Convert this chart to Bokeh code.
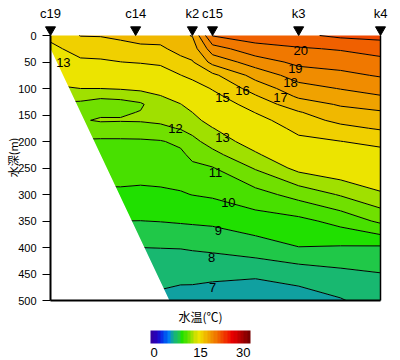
import math
import numpy as np
from bokeh.plotting import figure
from bokeh.models import Range1d, FixedTicker, ColorBar, LinearColorMapper, LinearAxis
from bokeh.core.properties import value
from bokeh.embed import file_html
from bokeh.resources import INLINE

# ---------------- data ----------------
stations = ["c19", "c14", "k2", "c15", "k3", "k4"]
station_km = [0.0, 25.8, 43.0, 49.1, 75.2, 100.0]

dist_km = [0.0, 9.1, 15.2, 21.2, 27.3, 33.3, 39.4, 43.0, 49.1, 62.1, 75.2, 87.9, 100.0]
depth_m = [0, 25, 50, 75, 100, 115, 130, 145, 160, 175, 200, 225, 250, 300, 350, 400, 450, 500]

# water temperature (deg C), rows = depth, columns = distance
temp = [
    [15.3, 16.03, 16.05, 16.2, 16.45, 16.4, 16.85, 17.04, 20.05, 20.5, 20.8, 21.2, 21.3],
    [14.7, 15.45, 15.48, 15.63, 15.75, 15.83, 16.33, 16.51, 18.56, 19.62, 19.89, 20.09, 20.45],
    [14.2, 14.8, 14.86, 14.99, 15.09, 15.22, 15.7, 15.93, 17.32, 18.49, 19.26, 19.4, 19.68],
    [13.5, 13.98, 13.93, 14.01, 14.15, 14.38, 14.98, 15.29, 15.77, 17.36, 18.46, 18.77, 19.09],
    [12.8, 13.0, 13.0, 13.09, 13.21, 13.43, 13.99, 14.46, 15.08, 16.41, 17.61, 18.04, 18.39],
    [12.3, 12.3, 12.11, 12.2, 12.51, 12.94, 13.45, 13.89, 14.69, 15.9, 17.14, 17.57, 17.93],
    [11.9, 11.8, 11.7, 11.7, 11.85, 12.68, 12.96, 13.44, 14.32, 15.46, 16.52, 17.1, 17.4],
    [11.8, 11.75, 11.82, 11.85, 12.05, 12.43, 12.66, 13.0, 13.94, 15.03, 15.93, 16.65, 16.9],
    [11.8, 11.9, 12.1, 12.08, 12.1, 12.17, 12.37, 12.65, 13.44, 14.63, 15.62, 16.22, 16.5],
    [11.5, 11.5, 11.56, 11.49, 11.54, 11.79, 12.07, 12.3, 12.96, 14.23, 15.31, 15.76, 16.1],
    [10.9, 10.9, 10.85, 10.87, 10.88, 10.93, 11.21, 11.75, 12.37, 13.54, 14.72, 14.98, 15.27],
    [10.6, 10.6, 10.6, 10.63, 10.64, 10.67, 10.79, 11.24, 11.71, 12.84, 14.0, 14.39, 14.64],
    [10.35, 10.35, 10.35, 10.37, 10.37, 10.4, 10.49, 10.77, 10.94, 12.09, 13.3, 13.74, 14.08],
    [9.85, 9.85, 9.85, 9.85, 9.8, 9.84, 9.92, 10.02, 10.13, 10.63, 11.36, 12.09, 12.85],
    [9.0, 9.0, 9.0, 9.0, 8.99, 9.03, 9.1, 9.14, 9.2, 9.55, 9.73, 10.32, 11.2],
    [8.1, 8.1, 8.1, 8.1, 8.0, 8.02, 8.04, 8.1, 8.2, 8.56, 8.98, 8.91, 8.86],
    [7.5, 7.5, 7.5, 7.5, 7.3, 7.29, 7.28, 7.27, 7.21, 7.13, 7.42, 7.74, 7.96],
    [7.0, 7.0, 7.0, 7.0, 6.8, 6.8, 6.6, 6.6, 6.5, 6.4, 6.5, 6.92, 7.5],
]

# contour levels drawn in the reference (no 14 line is shown)
levels = [6, 7, 8, 9, 10, 11, 12, 13, 15, 16, 17, 18, 19, 20, 21, 22]

# sea-bottom profile (distance km, depth m)
bottom_km = [0.0, 35.8]
bottom_depth = [28, 500]

# contour labels: value, distance, depth
label_val = ["13", "20", "19", "18", "17", "16", "15", "13", "12", "11", "10", "9", "8", "7"]
label_km = [3.9, 75.8, 74.2, 72.7, 69.7, 58.2, 52.1, 52.1, 37.9, 50.0, 53.9, 50.9, 48.8, 49.1]
label_depth = [51, 28, 62, 89, 117, 104, 117, 192, 175, 258, 315, 368, 419, 475]

depth_ticks = list(range(0, 501, 50))
cbar_ticks = [0, 15, 30]
cbar_labels = ["0", "15", "30"]

# 30-step palette, one colour per degree from 0 to 30
palette = [
    "#3000a0", "#2800b8", "#1810d0", "#0830e8", "#0058f0", "#0080f0",
    "#10a0a0", "#18b870", "#20c848", "#20e000", "#48e000", "#70e000",
    "#a0e000", "#d0e000", "#ece400", "#f0d000", "#f0b800", "#f0a200",
    "#f08c00", "#f07800", "#f06000", "#f04800", "#f03000", "#f01800",
    "#e80000", "#d80000", "#c00000", "#a80000", "#900000", "#780000",
]

# ---------------- layout ----------------
W, H = 400, 360
X0_PX, Y0_PX = 50, 35          # where 0 km / 0 m sit in the figure
PX_PER_KM, PX_PER_M = 3.3, 0.53


def kx(px):
    return (px - X0_PX) / PX_PER_KM


def dy(py):
    return (py - Y0_PX) / PX_PER_M


x_range = Range1d(kx(0), kx(W))
y_range = Range1d(dy(H), dy(0))

p = figure(width=W, height=H, x_range=x_range, y_range=y_range,
           output_backend="svg", toolbar_location=None,
           x_axis_location=None, min_border=0,
           min_border_left=0, min_border_right=0, min_border_top=0, min_border_bottom=0)
p.outline_line_color = None
p.xgrid.grid_line_color = None
p.ygrid.grid_line_color = None
p.background_fill_color = "white"
p.border_fill_color = "white"

z = np.array(temp)
band_colors = [palette[hi - 1] for hi in levels[1:]]
p.contour(x=dist_km, y=depth_m, z=z, levels=levels,
          fill_color=band_colors, line_color="black", line_width=1)

# sea bottom (white)
p.patch(x=bottom_km + [bottom_km[0]], y=bottom_depth + [bottom_depth[-1]],
        fill_color="white", line_color="white", line_width=1.5)

# contour labels
p.text(x=label_km, y=label_depth, text=label_val, text_align="center",
       text_baseline="middle", text_font=value("Liberation Sans"),
       text_font_size="13px", text_color="black")

# stations
tri_size = 10
tri_h = tri_size / 2 * math.sqrt(3)
p.scatter(x=station_km, y=[-(2 * tri_h / 3) / PX_PER_M] * len(station_km),
          marker="inverted_triangle", size=tri_size, color="black")
p.text(x=station_km, y=[-15 / PX_PER_M] * len(station_km), text=stations,
       text_align="center", text_baseline="bottom",
       text_font=value("Liberation Sans"), text_font_size="13px", text_color="black")

# y axis
ya = p.yaxis[0]
ya.fixed_location = 0
ya.bounds = (0, 500)
ya.ticker = FixedTicker(ticks=depth_ticks)
ya.major_tick_out = 8
ya.major_tick_in = 0
ya.minor_tick_line_color = None
ya.axis_line_width = 2
ya.major_tick_line_width = 1
ya.major_label_standoff = 6
ya.major_label_text_font = "Liberation Sans"
ya.major_label_text_font_size = "11px"
ya.major_label_text_color = "black"

p.text(x=[kx(12)], y=[dy(157)], text=["水深(m)"],
       angle=math.pi / 2, text_align="center", text_baseline="middle",
       text_font=value("Noto Sans CJK JP"), text_font_size="11px", text_color="black")

# right and bottom frame lines
ra = LinearAxis(fixed_location=100, bounds=(0, 500), ticker=FixedTicker(ticks=[]),
                major_tick_line_color=None, minor_tick_line_color=None,
                major_label_text_font_size="0px", axis_line_width=1.5)
p.add_layout(ra, "right")
ba = LinearAxis(fixed_location=500, bounds=(0, 100), ticker=FixedTicker(ticks=[]),
                major_tick_line_color=None, minor_tick_line_color=None,
                major_label_text_font_size="0px", axis_line_width=2)
p.add_layout(ba, "below")

# colour bar
CB_LEFT, CB_TOP, CB_W, CB_H = 150, 330, 100, 13
mapper = LinearColorMapper(palette=palette, low=0, high=30)
cb = ColorBar(color_mapper=mapper, orientation="horizontal", width=CB_W, height=CB_H,
              ticker=FixedTicker(ticks=[]), major_tick_line_color=None,
              major_label_text_font_size="0px", label_standoff=0, padding=0,
              bar_line_color=None, border_line_color=None, background_fill_alpha=0,
              location=(CB_LEFT, H - CB_TOP - CB_H))
p.add_layout(cb, "center")

cb_x = [kx(CB_LEFT + CB_W * t / 30) for t in cbar_ticks]
p.text(x=cb_x, y=[dy(352)] * 3, text=cbar_labels,
       text_align=["left", "center", "right"], text_baseline="middle",
       text_font=value("Liberation Sans"), text_font_size="13px", text_color="black")
p.text(x=[kx(CB_LEFT + CB_W / 2)], y=[dy(316)], text=["水温(℃)"],
       text_align="center", text_baseline="middle",
       text_font=value("Noto Sans CJK JP"), text_font_size="12px", text_color="black")

open("out.html", "w").write(file_html(p, INLINE))
